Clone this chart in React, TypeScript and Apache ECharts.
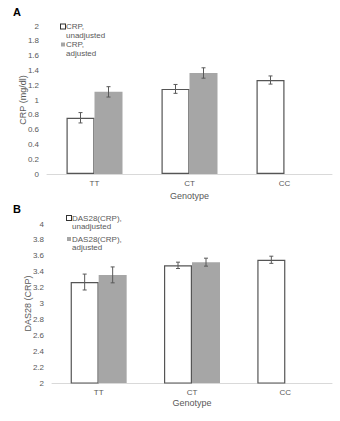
import React, { useEffect, useRef } from "react";
import * as echarts from "echarts";

const categories = ["TT", "CT", "CC"];
const crpUnadj = [0.76, 1.15, 1.27];
const crpUnadjErr = [0.07, 0.06, 0.055];
const crpAdj: (number | null)[] = [1.11, 1.365, null];
const crpAdjErr: (number | null)[] = [0.07, 0.07, null];
const dasUnadj = [3.27, 3.48, 3.55];
const dasUnadjErr = [0.1, 0.04, 0.045];
const dasAdj: (number | null)[] = [3.36, 3.52, null];
const dasAdjErr: (number | null)[] = [0.1, 0.05, null];

const BAR_W = 28;
const TXT = "#595959";
const FONT = "Liberation Sans";

function errData(vals: (number | null)[], errs: (number | null)[]) {
  const out: number[][] = [];
  vals.forEach((v, i) => {
    if (v != null && errs[i] != null) out.push([i, v, errs[i] as number]);
  });
  return out;
}

function errSeries(name: string, data: number[][], axis: number, offset: number) {
  return {
    type: "custom",
    name,
    xAxisIndex: axis,
    yAxisIndex: axis,
    z: 10,
    encode: { x: 0, y: 1 },
    data,
    renderItem: (params: any, api: any) => {
      const i = api.value(0);
      const v = api.value(1);
      const e = api.value(2);
      const top = api.coord([i, v + e]);
      const bot = api.coord([i, v - e]);
      const x = top[0] + offset;
      const cap = 2;
      const style = { stroke: TXT, lineWidth: 1 };
      return {
        type: "group",
        children: [
          { type: "line", shape: { x1: x, y1: top[1], x2: x, y2: bot[1] }, style },
          { type: "line", shape: { x1: x - cap, y1: top[1], x2: x + cap, y2: top[1] }, style },
          { type: "line", shape: { x1: x - cap, y1: bot[1], x2: x + cap, y2: bot[1] }, style },
        ],
      };
    },
  };
}

const legendFormatter = (name: string) => {
  const parts = name.split("\n");
  const box = parts[1] === "unadjusted" ? "u" : "g";
  return `{${box}|}{t|${parts[0]}}\n{t2|${parts[1]}}`;
};

export default function App() {
  const ref = useRef<HTMLDivElement>(null);
  useEffect(() => {
    document.body.style.margin = "0";
    if (!ref.current) return;
    const chart = echarts.init(ref.current, undefined, { renderer: "svg" });
    const xAxisBase = (gridIndex: number, nameGap: number) => ({
      type: "category",
      gridIndex,
      data: categories,
      axisLine: { lineStyle: { color: "#d9d9d9", width: 1 } },
      axisTick: { show: false },
      axisLabel: { color: TXT, fontSize: 8, margin: 5, fontFamily: FONT },
      name: "Genotype",
      nameLocation: "middle",
      nameGap,
      nameMoveOverlap: false,
      nameTextStyle: { color: TXT, fontSize: 9, fontFamily: FONT },
    });
    const yAxisBase = (gridIndex: number, min: number, max: number, name: string) => ({
      type: "value",
      gridIndex,
      min,
      max,
      interval: 0.2,
      axisLine: { show: false },
      axisTick: { show: false },
      splitLine: { show: false },
      axisLabel: { color: TXT, fontSize: 8, margin: 8, fontFamily: FONT },
      name,
      nameLocation: "middle",
      nameGap: 20,
      nameMoveOverlap: false,
      nameTextStyle: { color: TXT, fontSize: 9, fontFamily: FONT },
    });
    const unadjStyle = { color: "#ffffff", borderColor: "#555555", borderWidth: 1.2 };
    const adjStyle = { color: "#a6a6a6" };
    const rich = (lh: number) => ({
      u: { width: 4, height: 4, backgroundColor: "#ffffff", borderColor: "#333333", borderWidth: 1, verticalAlign: "middle" },
      g: { width: 4, height: 4, backgroundColor: "#a6a6a6", verticalAlign: "middle" },
      t: { padding: [0, 0, 0, 1], fontSize: 8, lineHeight: lh, color: TXT, fontFamily: FONT },
      t2: { padding: [0, 0, 0, 5], fontSize: 8, lineHeight: lh, color: TXT, fontFamily: FONT },
    });
    const legendBase = (lh: number, gap: number) => ({
      orient: "vertical",
      itemWidth: 0,
      itemHeight: 0,
      itemGap: gap,
      itemStyle: { opacity: 0, borderWidth: 0 },
      formatter: legendFormatter,
      textStyle: { color: TXT, fontSize: 8, lineHeight: lh, fontFamily: FONT, rich: rich(lh) },
      selectedMode: false,
    });
    chart.setOption({
      animation: false,
      grid: [
        { left: 47, right: 8, top: 26, bottom: 247 },
        { left: 52, right: 8, top: 224, bottom: 38 },
      ],
      xAxis: [xAxisBase(0, 17), xAxisBase(1, 15)],
      yAxis: [
        yAxisBase(0, 0, 2, "CRP (mg/dl)"),
        yAxisBase(1, 2, 4, "DAS28 (CRP)"),
      ],
      legend: [
        {
          ...legendBase(9, 0),
          left: 51,
          top: 17,
          data: ["CRP,\nunadjusted", "CRP,\nadjusted"],
        },
        {
          ...legendBase(8, 5),
          left: 57,
          top: 209,
          data: ["DAS28(CRP),\nunadjusted", "DAS28(CRP),\nadjusted"],
        },
      ],
      graphic: [
        { type: "text", left: 13, top: 6, style: { text: "A", fontSize: 11, fontWeight: "bold", fill: "#000", fontFamily: FONT } },
        { type: "text", left: 13, top: 203, style: { text: "B", fontSize: 11, fontWeight: "bold", fill: "#000", fontFamily: FONT } },
      ],
      series: [
        { type: "bar", name: "CRP,\nunadjusted", xAxisIndex: 0, yAxisIndex: 0, data: crpUnadj, barWidth: BAR_W, barGap: "0%", itemStyle: unadjStyle },
        { type: "bar", name: "CRP,\nadjusted", xAxisIndex: 0, yAxisIndex: 0, data: crpAdj, barWidth: BAR_W, barGap: "0%", itemStyle: adjStyle },
        { type: "bar", name: "DAS28(CRP),\nunadjusted", xAxisIndex: 1, yAxisIndex: 1, data: dasUnadj, barWidth: BAR_W, barGap: "0%", itemStyle: unadjStyle },
        { type: "bar", name: "DAS28(CRP),\nadjusted", xAxisIndex: 1, yAxisIndex: 1, data: dasAdj, barWidth: BAR_W, barGap: "0%", itemStyle: adjStyle },
        errSeries("errA1", errData(crpUnadj, crpUnadjErr), 0, -BAR_W / 2),
        errSeries("errA2", errData(crpAdj, crpAdjErr), 0, BAR_W / 2),
        errSeries("errB1", errData(dasUnadj, dasUnadjErr), 1, -BAR_W / 2),
        errSeries("errB2", errData(dasAdj, dasAdjErr), 1, BAR_W / 2),
      ],
    });
    return () => chart.dispose();
  }, []);
  return <div ref={ref} style={{ width: 340, height: 421 }} />;
}
